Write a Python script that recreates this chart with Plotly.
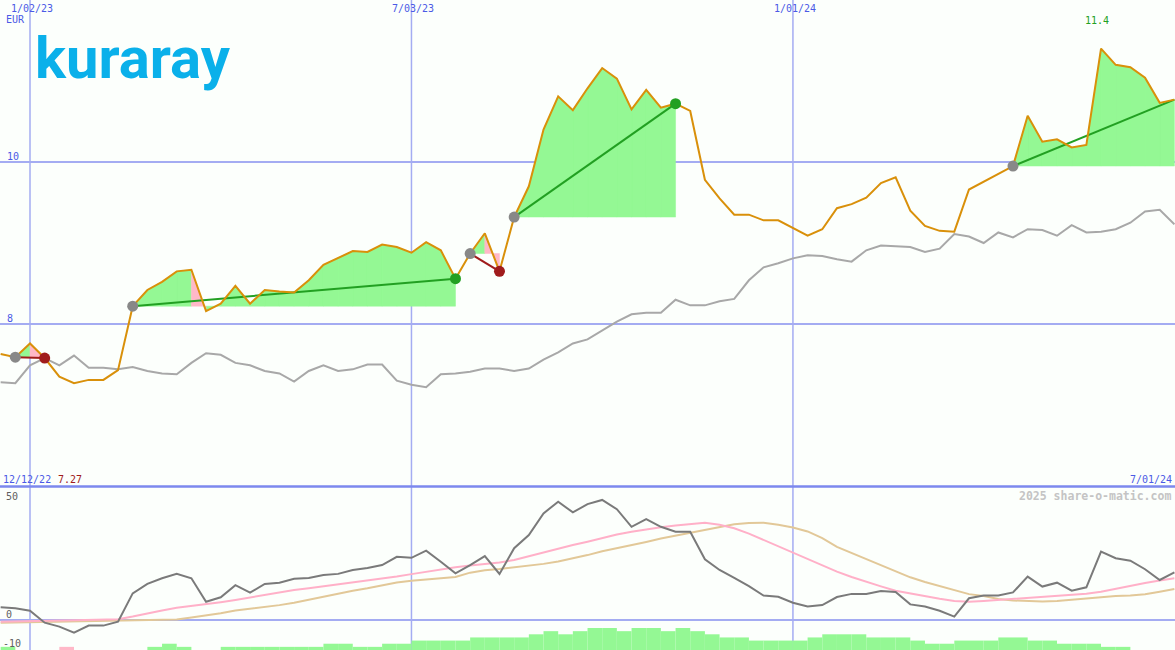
import pandas as pd
import plotly.graph_objects as go

# ---------------- data ----------------
dates = pd.date_range("2022-12-19", periods=81, freq="7D")

price = [7.63, 7.59, 7.76, 7.58, 7.35, 7.27, 7.31, 7.31, 7.43, 8.22,
         8.42, 8.52, 8.65, 8.67, 8.16, 8.25, 8.47, 8.25, 8.42, 8.40,
         8.39, 8.54, 8.73, 8.82, 8.90, 8.89, 8.98, 8.95, 8.88, 9.01,
         8.91, 8.56, 8.87, 9.12, 8.65, 9.32, 9.70, 10.40, 10.81, 10.64,
         10.91, 11.16, 11.03, 10.65, 10.89, 10.67, 10.72, 10.63, 9.78, 9.55,
         9.35, 9.35, 9.28, 9.28, 9.18, 9.09, 9.17, 9.43, 9.48, 9.56,
         9.74, 9.81, 9.40, 9.21, 9.15, 9.14, 9.66, 9.76, 9.86, 9.95,
         10.57, 10.25, 10.28, 10.18, 10.21, 11.40, 11.20, 11.17, 11.04, 10.73,
         10.77]

bench = [7.28, 7.27, 7.49, 7.58, 7.49, 7.61, 7.46, 7.46, 7.44, 7.47,
         7.42, 7.39, 7.38, 7.52, 7.64, 7.62, 7.52, 7.49, 7.42, 7.39,
         7.29, 7.42, 7.49, 7.42, 7.44, 7.50, 7.50, 7.30, 7.25, 7.22,
         7.38, 7.39, 7.41, 7.45, 7.45, 7.42, 7.45, 7.56, 7.65, 7.76,
         7.81, 7.92, 8.03, 8.12, 8.14, 8.14, 8.30, 8.23, 8.23, 8.28,
         8.31, 8.54, 8.70, 8.75, 8.81, 8.85, 8.84, 8.80, 8.77, 8.91,
         8.97, 8.96, 8.95, 8.89, 8.93, 9.11, 9.08, 9.00, 9.13, 9.07,
         9.17, 9.16, 9.09, 9.22, 9.13, 9.14, 9.17, 9.25, 9.39, 9.41,
         9.23]

osc = [5.2, 4.8, 3.8, -1.1, -2.7, -5.2, -2.3, -2.3, -0.7, 10.9,
       14.8, 17.1, 18.9, 17.1, 7.5, 9.3, 14.3, 11.2, 14.8, 15.3,
       16.9, 17.2, 18.4, 18.9, 20.5, 21.3, 22.5, 25.9, 25.5, 28.4,
       23.9, 19.1, 22.5, 26.2, 18.9, 29.4, 34.8, 43.7, 48.5, 44.1,
       47.5, 49.2, 45.4, 38.2, 41.3, 38.2, 36.2, 36.2, 24.9, 20.5,
       17.3, 13.9, 10.0, 9.5, 7.1, 5.5, 6.1, 9.4, 10.7, 10.7,
       11.9, 11.5, 6.4, 5.5, 3.8, 1.4, 8.9, 10.0, 10.0, 11.3,
       17.8, 13.7, 15.3, 12.0, 13.4, 28.0, 25.3, 24.3, 20.8, 16.4,
       19.5]

ma_fast = [-0.7, -0.5, -0.4, -0.3, -0.2, -0.1, 0.0, 0.1, 0.3, 1.4,
           2.8, 3.9, 5.0, 5.7, 6.4, 7.3, 8.2, 9.2, 10.3, 11.4,
           12.3, 13.0, 13.8, 14.6, 15.3, 16.0, 16.8, 17.8, 18.8, 19.8,
           20.8, 21.6, 22.3, 22.8, 23.6, 24.6, 26.2, 27.8, 29.4, 30.7,
           32.1, 33.6, 35.0, 36.2, 37.2, 38.0, 38.7, 39.4, 39.9, 39.0,
           37.6, 35.4, 32.8, 30.2, 27.5, 25.0, 22.3, 19.8, 17.6, 15.6,
           13.8, 12.0, 10.9, 9.6, 8.7, 7.8, 7.5, 7.8, 8.2, 8.7,
           9.2, 9.5, 9.7, 10.1, 10.8, 11.6, 12.9, 14.1, 15.2, 16.2,
           17.1]

ma_slow = [-1.1, -1.0, -0.9, -0.8, -0.7, -0.6, -0.5, -0.4, -0.3, -0.2,
           -0.1, 0.0, 0.2, 1.0, 1.8, 2.8, 3.9, 4.6, 5.3, 6.1,
           7.1, 8.4, 9.7, 10.9, 12.0, 13.0, 14.3, 15.4, 16.1, 16.6,
           17.0, 17.6, 19.4, 20.4, 20.9, 21.5, 22.3, 23.0, 24.0, 25.2,
           26.6, 28.2, 29.4, 30.8, 32.0, 33.4, 34.6, 35.8, 37.0, 38.2,
           39.2, 39.8, 39.9, 39.0, 37.9, 36.3, 33.6, 30.0, 27.5, 24.9,
           22.3, 19.8, 17.5, 15.6, 13.9, 12.5, 10.6, 9.8, 8.6, 8.0,
           7.7, 7.6, 7.8, 8.3, 8.8, 9.5, 9.8, 10.0, 10.6, 11.6,
           12.7]

bar_level = [1, 0, 0, 0, 1, 0, 0, 0, 0, 0,
             1, 2, 1, 0, 0, 1, 1, 1, 1, 1,
             1, 1, 2, 2, 1, 1, 2, 2, 3, 3,
             3, 3, 4, 4, 4, 4, 5, 6, 5, 6,
             7, 7, 6, 7, 7, 6, 7, 6, 5, 4,
             4, 3, 3, 3, 3, 4, 5, 5, 5, 4,
             4, 4, 3, 2, 2, 3, 3, 3, 4, 4,
             3, 3, 2, 2, 2, 1, 1, 0, 0, 0,
             0]
bar_negative = [4]  # weeks whose bar is pink

trade_entry = [1, 9, 32, 35, 69]
trade_exit = [3, 31, 34, 46, 80]
trade_open = [False, False, False, False, True]

top_dates = ["2023-01-02", "2023-07-03", "2024-01-01"]
top_date_labels = ["1/02/23", "7/03/23", "1/01/24"]
price_ticks = [10, 8]
osc_ticks = [50, 0, -10]

# ---------------- style ----------------
W, H = 1175, 650
BG = "#fcfffc"
GRID = "#a4acf2"
SEP = "#7c88ee"
BLUE_TXT = "#4b5ae6"
ORANGE = "#d9900a"
BENCH = "#a8a8a8"
FILL_G = "#94f894"
FILL_P = "#ffb8c8"
WIN = "#22a022"
LOSS = "#a01c1c"
MONO = "DejaVu Sans Mono"

TOP_DOM = [1 - 487 / H, 1.0]
BOT_DOM = [0.0, 162 / H]


def px(x):
    return x / W


def py(y):
    return 1 - y / H


fig = go.Figure()

# trade fills (between price and entry level)
gx, gy, pxs, pys = [], [], [], []
for a, b in zip(trade_entry, trade_exit):
    lvl = price[a]
    for k in range(a, b):
        poly_x = [dates[k], dates[k], dates[k + 1], dates[k + 1], dates[k]]
        poly_y = [lvl, price[k], price[k + 1], lvl, lvl]
        if price[k + 1] < lvl:
            pxs += poly_x + [None]
            pys += poly_y + [None]
        else:
            gx += poly_x + [None]
            gy += poly_y + [None]
fig.add_trace(go.Scatter(x=gx, y=gy, mode="lines", fill="toself", fillcolor=FILL_G,
                         line=dict(width=0.5, color=FILL_G), hoverinfo="skip", yaxis="y"))
fig.add_trace(go.Scatter(x=pxs, y=pys, mode="lines", fill="toself", fillcolor=FILL_P,
                         line=dict(width=0.5, color=FILL_P), hoverinfo="skip", yaxis="y"))

# benchmark
fig.add_trace(go.Scatter(x=dates, y=bench, mode="lines", line=dict(color=BENCH, width=2),
                         hoverinfo="skip", yaxis="y"))

# trade trend lines
for a, b, op in zip(trade_entry, trade_exit, trade_open):
    col = WIN if price[b] >= price[a] else LOSS
    fig.add_trace(go.Scatter(x=[dates[a], dates[b]], y=[price[a], price[b]], mode="lines",
                             line=dict(color=col, width=2), hoverinfo="skip", yaxis="y"))

# price line
fig.add_trace(go.Scatter(x=dates, y=price, mode="lines", line=dict(color=ORANGE, width=2),
                         hoverinfo="skip", yaxis="y"))

# markers
fig.add_trace(go.Scatter(x=[dates[a] for a in trade_entry], y=[price[a] for a in trade_entry],
                         mode="markers", marker=dict(color="#888888", size=11),
                         hoverinfo="skip", yaxis="y"))
ex_x, ex_y, ex_c = [], [], []
for a, b, op in zip(trade_entry, trade_exit, trade_open):
    if op:
        continue
    ex_x.append(dates[b])
    ex_y.append(price[b])
    ex_c.append(WIN if price[b] >= price[a] else LOSS)
fig.add_trace(go.Scatter(x=ex_x, y=ex_y, mode="markers", marker=dict(color=ex_c, size=11),
                         hoverinfo="skip", yaxis="y"))

# bottom panel bars
week_ms = 7 * 86400000
bar_cols = [FILL_P if i in bar_negative else FILL_G for i in range(len(bar_level))]
fig.add_trace(go.Bar(x=dates, y=bar_level, width=week_ms, offset=0,
                     marker=dict(color=bar_cols, line=dict(width=0)),
                     hoverinfo="skip", xaxis="x", yaxis="y3"))

# bottom panel indicator lines
fig.add_trace(go.Scatter(x=dates, y=ma_slow, mode="lines", line=dict(color="#e2c898", width=2),
                         hoverinfo="skip", yaxis="y2"))
fig.add_trace(go.Scatter(x=dates, y=ma_fast, mode="lines", line=dict(color="#ffb0c8", width=2),
                         hoverinfo="skip", yaxis="y2"))
fig.add_trace(go.Scatter(x=dates, y=osc, mode="lines", line=dict(color="#7a7a7a", width=2),
                         hoverinfo="skip", yaxis="y2"))

# ---------------- axes ----------------
x0 = pd.Timestamp("2022-12-19") - pd.Timedelta(hours=7.5)
x1 = pd.Timestamp("2024-07-01") + pd.Timedelta(hours=7)
fig.update_layout(
    width=W, height=H,
    margin=dict(l=0, r=0, t=0, b=0),
    paper_bgcolor=BG, plot_bgcolor=BG,
    showlegend=False,
    barmode="overlay",
    xaxis=dict(range=[x0, x1], type="date", visible=False, showgrid=False, zeroline=False),
    yaxis=dict(domain=TOP_DOM, range=[(972 - 487) / 81, 12.0], visible=False,
               showgrid=False, zeroline=False),
    yaxis2=dict(domain=BOT_DOM, range=[(620 - 650) / 2.44, (620 - 488) / 2.44],
                visible=False, showgrid=False, zeroline=False, anchor="x"),
    yaxis3=dict(domain=BOT_DOM, range=[0, 162 / 3.14], visible=False, showgrid=False,
                zeroline=False, anchor="x", overlaying="y2"),
)

shapes = []
for d in top_dates:
    shapes.append(dict(type="line", xref="x", yref="paper", x0=d, x1=d, y0=0, y1=1,
                       line=dict(color=GRID, width=1.5), layer="below"))
for t in price_ticks:
    shapes.append(dict(type="line", xref="paper", yref="y", x0=0, x1=1, y0=t, y1=t,
                       line=dict(color=GRID, width=2), layer="below"))
shapes.append(dict(type="line", xref="paper", yref="y2", x0=0, x1=1, y0=0, y1=0,
                   line=dict(color=GRID, width=2), layer="below"))
shapes.append(dict(type="line", xref="paper", yref="paper", x0=0, x1=1,
                   y0=TOP_DOM[0] + 0.5 / H, y1=TOP_DOM[0] + 0.5 / H,
                   line=dict(color=SEP, width=2.5), layer="above"))
fig.update_layout(shapes=shapes)

ann = []


def text(x, y, s, color, size=10, xanchor="left", family=MONO):
    ann.append(dict(x=px(x), y=py(y), xref="paper", yref="paper", text=s, showarrow=False,
                    xanchor=xanchor, yanchor="middle", font=dict(family=family, size=size, color=color)))


# top date labels
for d, lab in zip(top_dates, top_date_labels):
    xpix = (pd.Timestamp(d) - x0) / (x1 - x0) * W
    text(xpix + 2, 8, lab, BLUE_TXT, xanchor="center")
text(4, 19, "EUR", BLUE_TXT)
for t in price_ticks:
    ypix = 972 - 81 * t
    text(5, ypix - 6, str(t), BLUE_TXT)

# max / min labels
kmax = max(range(len(price)), key=lambda i: price[i])
kmin = min(range(len(price)), key=lambda i: price[i])
xmax_pix = (dates[kmax] - x0) / (x1 - x0) * W
text(xmax_pix - 4, 21, f"{price[kmax]:.1f}", WIN, xanchor="center")
text(1, 479, "12/12/22", BLUE_TXT)
text(56, 479, f"{price[kmin]:.2f}", LOSS)
text(1174, 479, "7/01/24", BLUE_TXT, xanchor="right")
text(1173, 496, "<b>2025 share-o-matic.com</b>", "#c4c4c4", size=11.5, xanchor="right")
for t, ypix in zip(osc_ticks, [496, 614, 643]):
    text(4 if t >= 0 else 1, ypix, str(t), "#606060")

# logo
ann.append(dict(x=px(33), y=py(58), xref="paper", yref="paper", text="<b>kuraray</b>",
                showarrow=False, xanchor="left", yanchor="middle",
                font=dict(family="Roboto", size=58, color="#0ab0ea")))

fig.update_layout(annotations=ann)

fig.write_html(
    "out.html",
    config={"displayModeBar": False, "staticPlot": True},
    post_script="document.body.style.margin='0';document.body.style.overflow='hidden';",
)
